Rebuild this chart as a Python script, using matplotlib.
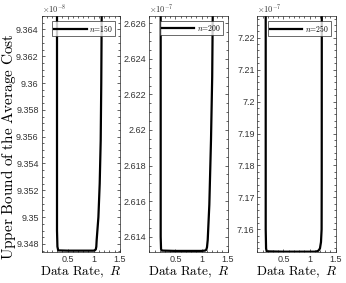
import numpy as np
import matplotlib
matplotlib.use('Agg')
import matplotlib.pyplot as plt
from matplotlib.ticker import FuncFormatter, AutoMinorLocator

plt.rcParams['mathtext.fontset'] = 'cm'
plt.rcParams['font.family'] = ['Liberation Sans', 'DejaVu Sans']

# values (cost in units of 10^exp)
r150 = [0.297, 0.297, 0.305, 0.32, 0.50, 0.80, 0.99, 1.02, 1.04, 1.05, 1.057, 1.09,
        1.115, 1.134, 1.145, 1.153, 1.156]
c150 = [9.3700, 9.3490, 9.3478, 9.34752, 9.34750, 9.34750, 9.34750, 9.34752, 9.34760,
        9.34780, 9.3483, 9.3500, 9.3525, 9.3557, 9.3600, 9.3650, 9.3700]
r200 = [0.218, 0.218, 0.225, 0.24, 0.50, 0.80, 1.00, 1.067, 1.09, 1.105, 1.119, 1.15,
        1.182, 1.205, 1.215, 1.22]
c200 = [2.6300, 2.6140, 2.6133, 2.61322, 2.61320, 2.61320, 2.61320, 2.61322, 2.61326,
        2.61340, 2.61381, 2.6158, 2.61944, 2.6230, 2.6264, 2.6300]
r250 = [0.161, 0.161, 0.168, 0.18, 0.50, 0.80, 1.10, 1.138, 1.17, 1.20, 1.22, 1.232,
        1.234, 1.236]
c250 = [7.2400, 7.1600, 7.1540, 7.1531, 7.1530, 7.1530, 7.1530, 7.1531, 7.1533, 7.1540,
        7.1560, 7.1600, 7.1750, 7.2400]

labels = ['$n\\!=\\!150$', '$n\\!=\\!200$', '$n\\!=\\!250$']
exponents = [-8, -7, -7]
ylims = [(9.3474, 9.3650), (2.61314, 2.62641), (7.1529, 7.2268)]
yticks = [np.arange(9.348, 9.3641, 0.002), np.arange(2.614, 2.6261, 0.002),
          np.arange(7.16, 7.2201, 0.01)]
yminor = [4, 4, 5]
xticks = [0.5, 1, 1.5]

fig = plt.figure(figsize=(3.46, 2.83), dpi=100)
lefts = [41.5, 149.3, 257.3]
W, H = 346.0, 283.0

series = [(r150, c150), (r200, c200), (r250, c250)]
axcol = '0.15'

for i, (r, c) in enumerate(series):
    ax = fig.add_axes([lefts[i] / W, 31 / H, 78.3 / W, 236 / H])
    ax.plot(r, c, color='k', linewidth=1.6, label=labels[i])
    ax.set_xlim(0, 1.5)
    ax.set_ylim(*ylims[i])
    ax.set_xticks(xticks)
    ax.set_yticks(yticks[i])
    ax.xaxis.set_major_formatter(FuncFormatter(lambda v, p: '%g' % round(v, 4)))
    ax.yaxis.set_major_formatter(FuncFormatter(lambda v, p: '%g' % round(v, 4)))
    ax.xaxis.set_minor_locator(AutoMinorLocator(5))
    ax.yaxis.set_minor_locator(AutoMinorLocator(yminor[i]))
    ax.tick_params(which='both', direction='in', top=True, right=True,
                   labelsize=6.5, colors=axcol, labelcolor='0.2', width=0.5, pad=2)
    ax.tick_params(which='major', length=2.5)
    ax.tick_params(which='minor', length=1.3)
    for s in ax.spines.values():
        s.set_color(axcol)
        s.set_linewidth(0.5)
    ax.set_xlabel('$\\mathrm{Data\\ Rate,}\\ R$', fontsize=9.5, labelpad=1)
    ax.text(0.0, 1.005, '$\\times\\mathsf{10}^{\\mathsf{%d}}$' % exponents[i],
            transform=ax.transAxes, fontsize=6, color='0.2', va='bottom', ha='left')
    leg = ax.legend(loc='upper right', fontsize=5.5, frameon=True, fancybox=False,
                    handlelength=4.2, borderpad=0.3, handletextpad=0.3,
                    borderaxespad=0.6)
    leg.get_frame().set_edgecolor('0.15')
    leg.get_frame().set_linewidth(0.6)

fig.text(8.5 / W, 136.5 / H, '$\\mathrm{Upper\\ Bound\\ of\\ the\\ Average\\ Cost}$',
         fontsize=11, rotation=90, ha='center', va='center')

fig.savefig('out.png', dpi=100)
